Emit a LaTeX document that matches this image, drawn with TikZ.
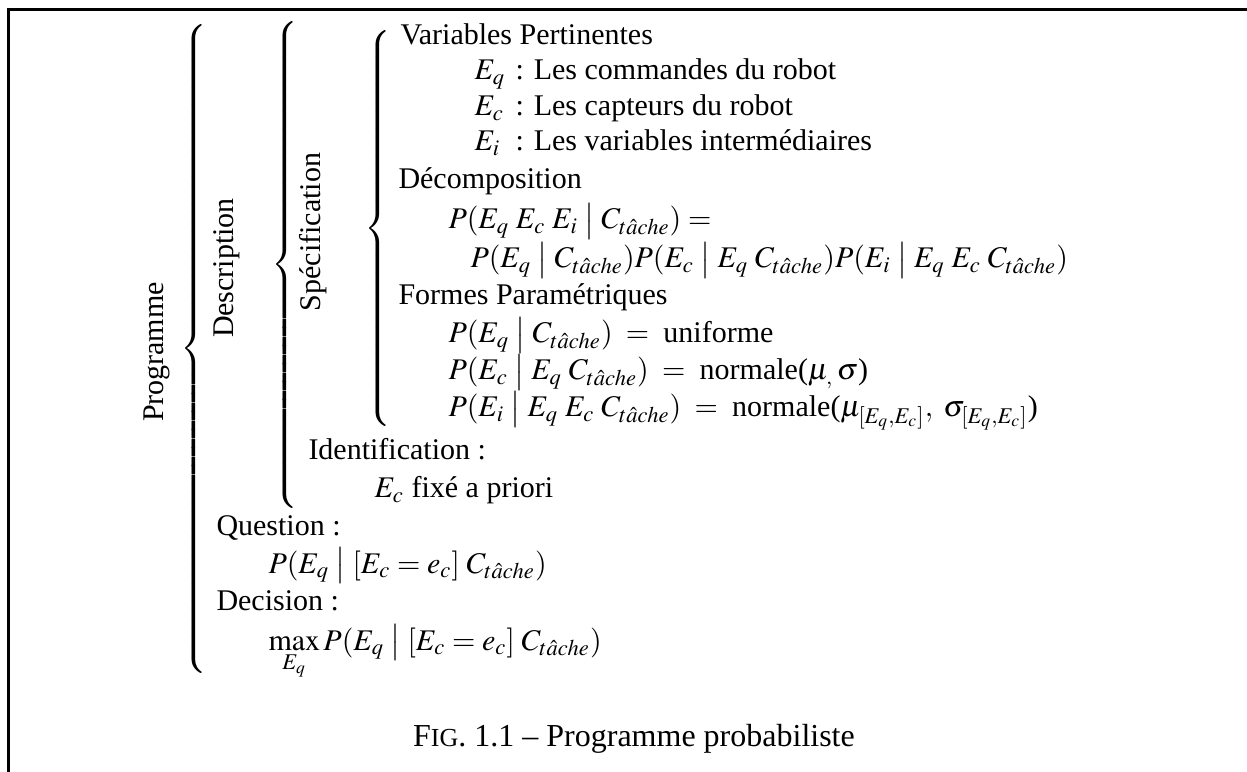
\documentclass[tikz,border=0pt]{standalone}
\usepackage{mathptmx}
\usepackage{fontspec}
\setmainfont{Liberation Serif}
\newcommand{\Ct}{C_{t\hat{a}che}}
\newcommand{\gv}{\bigm|}
\newcommand{\bracebox}[1]{{\delimitershortfall=0pt\delimiterfactor=1000$\left\{\vcenter{\hbox{\rule{0pt}{#1}}}\right.$}}
\begin{document}
\begin{tikzpicture}[x=0.4pt,y=-0.4pt,
  every node/.style={font=\fontsize{12}{14.5}\selectfont},
  txt/.style={anchor=base west, inner sep=0pt},
  vlab/.style={rotate=90, inner sep=0pt, anchor=center},
  brc/.style={anchor=west, inner sep=0pt},
  frame/.style={line width=1.2pt}]
\useasboundingbox (0,0) rectangle (1247,772);
% frame
\coordinate (fbl) at (8,772);
\coordinate (ftl) at (8,10);
\coordinate (ftr) at (1247,10);
\draw[frame] (fbl) -- (ftl) -- (ftr);
% rotated labels
\node[vlab] (prog) at (157,352) {Programme};
\node[vlab] (desc) at (227,268) {Description};
\node[vlab] (spec) at (313,232) {Spécification};
% braces
\node[brc] (b1) at (180,349) {\bracebox{254pt}};
\node[brc] (b2) at (271,265) {\bracebox{192pt}};
\node[brc] (b3) at (364,229) {\bracebox{156pt}};
% Specification content
\node[txt] (vp) at (400,45) {Variables Pertinentes};
\node[txt] (eq) at (474,80) {$E_q$};
\node[txt] (eqt) at (515,80) {: Les commandes du robot};
\node[txt] (ec) at (474,116) {$E_c$};
\node[txt] (ect) at (515,116) {: Les capteurs du robot};
\node[txt] (ei) at (474,151) {$E_i$};
\node[txt] (eit) at (515,151) {: Les variables intermédiaires};
\node[txt] (dec) at (398,189) {Décomposition};
\node[txt] (d1) at (448,229) {$P(E_q\;E_c\;E_i \gv \Ct) =$};
\node[txt] (d2) at (470,268) {$P(E_q \gv \Ct)P(E_c \gv E_q\;\Ct)P(E_i \gv E_q\;E_c\;\Ct)$};
\node[txt] (fp) at (398,305) {Formes Paramétriques};
\node[txt] (f1) at (448,343) {$P(E_q \gv \Ct)\;=\;$ uniforme};
\node[txt] (f2) at (448,380) {$P(E_c \gv E_q\;\Ct)\;=\;$ normale($\mu_,\,\sigma$)};
\node[txt] (f3) at (448,417) {$P(E_i \gv E_q\;E_c\;\Ct)\;=\;$ normale($\mu_{[E_q,E_c]},\;\sigma_{[E_q,E_c]}$)};
% Identification
\node[txt] (id) at (308,460) {Identification :};
\node[txt] (idv) at (374,498) {$E_c$ fixé a priori};
% Question / Decision
\node[txt] (q) at (216,535) {Question :};
\node[txt] (qv) at (268,573) {$P(E_q \gv [E_c=e_c]\;\Ct)$};
\node[txt] (dc) at (216,610) {Decision :};
\node[txt] (dcv) at (268,650) {$\max\limits_{E_q} P(E_q \gv [E_c=e_c]\;\Ct)$};
% caption
\node[anchor=base, inner sep=0pt, font=\fontsize{12.8}{15}\selectfont] (cap) at (634,746) {F{\fontsize{10.4}{12}\selectfont IG}. 1.1 – Programme probabiliste};
\end{tikzpicture}
\end{document}
